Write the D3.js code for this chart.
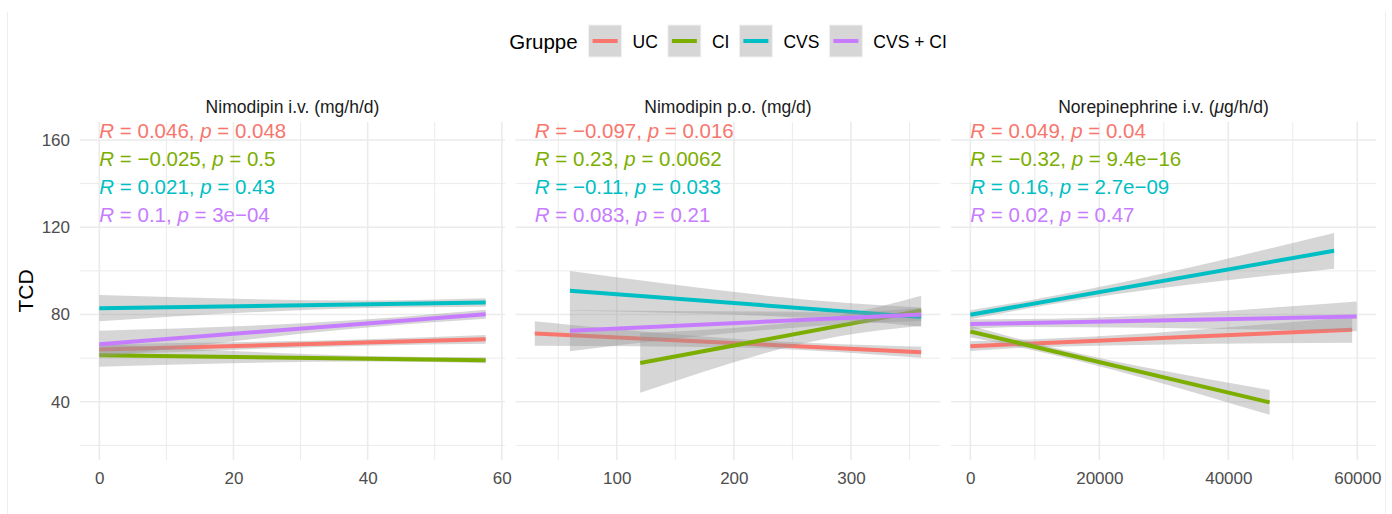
<!DOCTYPE html>
<html>
<head>
<meta charset="utf-8">
<script src="https://cdn.jsdelivr.net/npm/d3@7"></script>
<style>
body { margin: 0; background: #fff; }
text { font-family: "Liberation Sans", Arial, Helvetica, sans-serif; }
</style>
</head>
<body>
<div class="container"></div>
<script>
// tamaños y márgenes
const width = 1392
const height = 514
const margin = { top: 122, bottom: 54, left: 80, right: 16 }
const gap = 10.5
const panelWidth = (width - margin.left - margin.right - 2 * gap) / 3

// datos
const groups = ["UC", "CI", "CVS", "CVS + CI"]
const colors = ["#F8766D", "#7CAE00", "#00BFC4", "#C77CFF"]
const panelTitles = ["Nimodipin i.v. (mg/h/d)", "Nimodipin p.o. (mg/d)", "Norepinephrine i.v. (|g/h/d)"]
const yTicks = [40, 80, 120, 160]
const yMinor = [20, 60, 100, 140]
const yLimits = [13.3, 168.25]
const xTicks = [[0, 20, 40, 60], [100, 200, 300], [0, 20000, 40000, 60000]]
const xMinor = [[10, 30, 50], [50, 150, 250, 350], [10000, 30000, 50000]]

// recta de regresión por grupo: [x inicio, x fin, TCD inicio, TCD fin]
const fitIV = [[0, 57.6, 63.9, 68.6], [0, 57.6, 61.3, 59.0], [0, 57.6, 82.9, 85.5], [0, 57.6, 66.4, 80.1]]
const fitPO = [[30, 360, 71.3, 62.7], [120, 360, 57.8, 81.8], [60, 360, 90.9, 78.8], [60, 360, 72.6, 80.0]]
const fitNE = [[0, 59200, 65.5, 73.0], [0, 46400, 72.2, 39.7], [0, 56400, 79.9, 109.2], [0, 59900, 75.6, 79.1]]

// banda de confianza por grupo: [x, inferior, superior]
const bandIV = [
    [[0, 61.4, 66.4], [40, 65.7, 68.7], [57.6, 66.6, 70.6]],
    [[0, 56.0, 66.6], [40, 58.4, 61.0], [57.6, 57.6, 60.4]],
    [[0, 76.9, 88.9], [40, 83.0, 86.4], [57.6, 83.6, 87.4]],
    [[0, 60.3, 72.6], [40, 74.0, 77.8], [57.6, 78.0, 82.2]]
]
const bandPO = [
    [[30, 65.7, 76.9], [200, 64.9, 68.9], [360, 60.2, 65.2]],
    [[120, 44.1, 71.5], [290, 70.0, 79.6], [360, 74.8, 88.6]],
    [[60, 81.7, 99.9], [300, 77.2, 85.2], [360, 74.4, 83.2]],
    [[60, 63.2, 82.0], [300, 75.7, 81.3], [360, 77.0, 83.0]]
]
const bandNE = [
    [[0, 63.3, 67.7], [10000, 65.0, 68.6], [59200, 67.1, 78.9]],
    [[0, 69.6, 74.8], [8000, 64.8, 68.4], [46400, 34.0, 45.4]],
    [[0, 77.8, 82.0], [8000, 82.3, 85.9], [56400, 101.0, 117.4]],
    [[0, 73.4, 77.8], [8000, 74.3, 77.9], [59900, 72.3, 86.0]]
]

// correlaciones
const rIV = [0.046, -0.025, 0.021, 0.1]
const pIV = ["0.048", "0.5", "0.43", "3e-04"]
const rPO = [-0.097, 0.23, -0.11, 0.083]
const pPO = ["0.016", "0.0062", "0.033", "0.21"]
const rNE = [0.049, -0.32, 0.16, 0.02]
const pNE = ["0.04", "9.4e-16", "2.7e-09", "0.47"]

const panels = [
    { fit: fitIV, band: bandIV, r: rIV, p: pIV },
    { fit: fitPO, band: bandPO, r: rPO, p: pPO },
    { fit: fitNE, band: bandNE, r: rNE, p: pNE }
]

// svg
const svg = d3.select(".container").append("svg").attr("width", width).attr("height", height)

// marco gris claro
svg.append("line").attr("x1", 7.5).attr("x2", 7.5).attr("y1", 12).attr("y2", height).attr("stroke", "#EEEEEE")
svg.append("line").attr("x1", 1385.5).attr("x2", 1385.5).attr("y1", 12).attr("y2", height).attr("stroke", "#EEEEEE")

const y = d3.scaleLinear().domain(yLimits).range([height - margin.bottom, margin.top])

const fmtR = v => v < 0 ? "\u2212" + Math.abs(v) : String(v)

panels.forEach((panel, i) => {
    const left = margin.left + i * (panelWidth + gap)
    const xMin = d3.min(panel.fit, d => d[0])
    const xMax = d3.max(panel.fit, d => d[1])
    const pad = (xMax - xMin) * 0.05
    const x = d3.scaleLinear().domain([xMin - pad, xMax + pad]).range([left, left + panelWidth])

    const g = svg.append("g").attr("class", "panel")
    const grid = g.append("g").attr("stroke", "#EBEBEB")

    // rejilla
    grid.selectAll(".vmin").data(xMinor[i]).join("line")
        .attr("x1", d => x(d)).attr("x2", d => x(d))
        .attr("y1", margin.top).attr("y2", height - margin.bottom)
        .attr("stroke-width", 1)
    grid.selectAll(".hmin").data(yMinor).join("line")
        .attr("x1", left).attr("x2", left + panelWidth)
        .attr("y1", d => y(d)).attr("y2", d => y(d))
        .attr("stroke-width", 1)
    grid.selectAll(".vmaj").data(xTicks[i]).join("line")
        .attr("x1", d => x(d)).attr("x2", d => x(d))
        .attr("y1", margin.top).attr("y2", height - margin.bottom)
        .attr("stroke-width", 1.6)
    grid.selectAll(".hmaj").data(yTicks).join("line")
        .attr("x1", left).attr("x2", left + panelWidth)
        .attr("y1", d => y(d)).attr("y2", d => y(d))
        .attr("stroke-width", 1.6)

    // bandas y rectas (orden de grupos como ggplot)
    const area = d3.area().x(d => x(d[0])).y0(d => y(d[1])).y1(d => y(d[2])).curve(d3.curveMonotoneX)
    const line = d3.line().x(d => x(d[0])).y(d => y(d[1]))
    groups.forEach((grp, k) => {
        const f = panel.fit[k]
        g.append("path").attr("d", area(panel.band[k]))
            .attr("fill", "#999999").attr("fill-opacity", 0.4)
        g.append("path").attr("d", line([[f[0], f[2]], [f[1], f[3]]]))
            .attr("stroke", colors[k]).attr("stroke-width", 4).attr("fill", "none")
    })

    // eje x
    const xAxis = d3.axisBottom(x).tickValues(xTicks[i]).tickSize(0).tickPadding(12).tickFormat(d3.format("d"))
    const xg = g.append("g").attr("transform", `translate(0, ${height - margin.bottom})`).call(xAxis)
    xg.select(".domain").remove()
    xg.selectAll("text").attr("fill", "#4D4D4D").style("font-size", "17px")
        .style("font-family", "'Liberation Sans', Arial, sans-serif")

    // título del panel
    const title = g.append("text")
        .attr("x", left + panelWidth / 2).attr("y", 112.5)
        .attr("text-anchor", "middle").attr("fill", "#1A1A1A").style("font-size", "17.5px")
    const parts = panelTitles[i].split("|")
    title.append("tspan").text(parts[0])
    if (parts.length > 1) {
        title.append("tspan").attr("font-style", "italic").text("\u03bc")
        title.append("tspan").text(parts[1])
    }

    // etiquetas R y p
    groups.forEach((grp, k) => {
        const t = g.append("text")
            .attr("x", x(xMin)).attr("y", y(160) - 1.7 + k * 27.8)
            .attr("fill", colors[k]).style("font-size", "20.5px")
        t.append("tspan").attr("font-style", "italic").text("R")
        t.append("tspan").text(" = " + fmtR(panel.r[k]) + ", ")
        t.append("tspan").attr("font-style", "italic").text("p")
        t.append("tspan").text(" = " + panel.p[k].replace("-", "\u2212"))
    })
})

// eje y
const yAxis = d3.axisLeft(y).tickValues(yTicks).tickSize(0).tickPadding(10)
const yg = svg.append("g").attr("transform", `translate(${margin.left}, 0)`).call(yAxis)
yg.select(".domain").remove()
yg.selectAll("text").attr("fill", "#4D4D4D").style("font-size", "17px")
    .style("font-family", "'Liberation Sans', Arial, sans-serif")

svg.append("text")
    .attr("transform", `translate(33, ${(margin.top + height - margin.bottom) / 2}) rotate(-90)`)
    .attr("text-anchor", "middle").style("font-size", "21px").attr("fill", "#000")
    .text("TCD")

// leyenda
const legend = svg.append("g").attr("id", "legend")
const legTitle = legend.append("text").attr("y", 49).style("font-size", "20.5px").text("Gruppe")
let cursor = legTitle.node().getComputedTextLength() + 11
groups.forEach((grp, k) => {
    legend.append("rect").attr("x", cursor).attr("y", 25).attr("width", 33).attr("height", 32)
        .attr("fill", "#D6D6D6").attr("stroke", "#F2F2F2")
    legend.append("line").attr("x1", cursor + 4).attr("x2", cursor + 29).attr("y1", 41).attr("y2", 41)
        .attr("stroke", colors[k]).attr("stroke-width", 4)
    cursor += 33 + 11
    const lab = legend.append("text").attr("x", cursor).attr("y", 48.3).style("font-size", "17.5px").text(grp)
    cursor += lab.node().getComputedTextLength()
    if (k < groups.length - 1) cursor += 10
})
const center = (margin.left + width - margin.right) / 2
legend.attr("transform", `translate(${center - cursor / 2}, 0)`)
</script>
</body>
</html>
